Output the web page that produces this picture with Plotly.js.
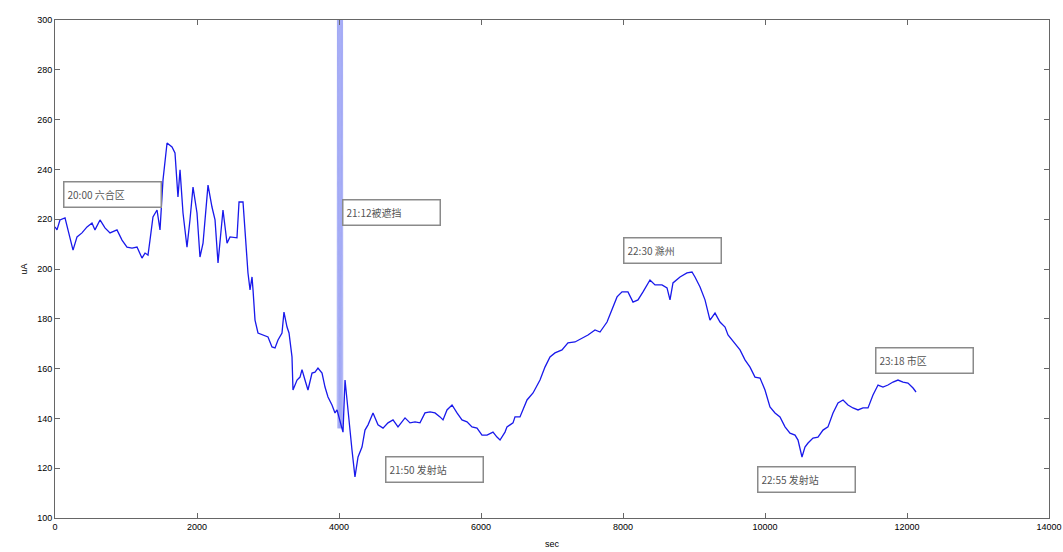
<!DOCTYPE html>
<html>
<head>
<meta charset="utf-8">
<script src="https://cdn.plot.ly/plotly-3.0.1.min.js"></script>
<style>html,body{margin:0;padding:0;background:#fff;}#chart{width:1063px;height:552px;}</style>
</head>
<body>
<div id="chart"></div>
<script>
// Time (sec) and signal values
const timeSec = [0,28,70,141,183,254,310,380,451,521,563,634,704,775,873,944,1014,1085,1155,1225,1268,1310,1338,1380,1437,1479,1521,1578,1648,1690,1732,1761,1803,1859,1901,1944,2000,2042,2085,2155,2211,2254,2296,2366,2423,2465,2563,2592,2648,2676,2718,2747,2775,2789,2817,2859,2930,3000,3056,3099,3141,3197,3225,3268,3296,3338,3352,3409,3451,3479,3521,3563,3620,3662,3704,3761,3803,3845,3901,3944,3972,4056,4085,4120,4183,4225,4268,4324,4366,4409,4479,4549,4620,4690,4761,4831,4930,5000,5071,5141,5211,5282,5352,5423,5465,5521,5592,5662,5732,5803,5873,5944,6014,6085,6169,6225,6268,6338,6366,6409,6451,6479,6549,6648,6733,6831,6901,6972,7042,7141,7225,7324,7423,7507,7606,7676,7775,7845,7916,7986,8070,8141,8211,8282,8380,8451,8549,8620,8662,8704,8803,8901,8972,9014,9085,9155,9225,9296,9366,9437,9479,9648,9718,9789,9859,9930,10000,10070,10141,10211,10282,10352,10423,10465,10521,10563,10606,10676,10746,10817,10887,10958,11028,11099,11169,11239,11310,11380,11451,11521,11592,11662,11732,11803,11873,11944,12014,12085,12127];
const signal = [216.9,215.7,219.7,220.5,215.7,207.6,212.9,214.5,216.9,218.5,215.7,219.7,216.5,214.5,215.7,211.6,208.8,208.4,208.8,204.4,206.4,205.6,211.6,220.9,223.7,215.7,235.7,250.6,249.0,246.6,228.9,239.8,222.5,208.8,219.7,232.9,222.5,204.8,210.4,233.7,224.9,219.7,202.4,223.7,210.4,212.9,212.5,226.9,226.9,215.7,198.4,191.6,196.8,191.6,179.5,174.3,173.5,172.7,168.7,168.3,171.5,174.3,182.7,176.7,174.3,164.7,151.4,155.4,156.6,159.6,155.4,151.4,158.2,158.6,160.2,158.2,152.6,148.6,145.4,142.2,143.4,134.5,155.4,144.6,127.3,116.5,124.5,128.5,135.3,137.4,142.2,137.4,136.1,138.2,139.4,136.6,140.2,138.2,138.6,138.2,142.2,142.6,142.2,140.6,139.4,143.4,145.4,142.2,139.4,138.6,136.6,136.1,133.3,133.3,134.5,132.5,131.3,134.5,136.6,137.4,138.2,140.6,140.6,147.4,150.2,155.4,160.6,164.7,166.3,167.5,170.3,170.7,172.3,173.5,175.5,174.7,178.7,183.5,188.8,190.8,190.8,186.7,187.6,190.8,195.6,193.6,193.6,192.4,187.6,194.4,196.8,198.4,198.8,196.8,192.8,187.6,179.5,182.3,178.7,176.7,173.5,167.5,163.5,160.6,156.6,156.2,151.4,144.6,142.2,140.6,136.6,134.1,133.3,131.3,124.5,128.5,130.1,132.1,132.5,135.3,136.6,142.2,146.2,147.4,145.4,144.2,143.4,144.2,144.2,149.4,153.4,152.6,153.4,154.6,155.4,154.6,154.2,152.2,150.6];

// Occluded burst around 21:12 (dense oscillation)
const burstSec = [3972,3978,3984,3990,3996,4002,4008,4014,4020,4026,4032,4038,4044,4050,4056];
const burstVal = [143,320,136,320,136,320,136,320,136,320,136,320,136,320,134.5];

// Event labels
const labelText = ["20:00 六合区","21:12被遮挡","21:50 发射站","22:30 滁州","22:55 发射站","23:18 市区"];
const labelSec = [803,4733,5345,8697,10578,12240];
const labelVal = [229.9,222.7,119.3,207.6,115.3,163.1];

const xTicks = [0,2000,4000,6000,8000,10000,12000,14000];
const yTicks = [100,120,140,160,180,200,220,240,260,280,300];

const traces = [
  {x: burstSec, y: burstVal, type: 'scatter', mode: 'lines',
   line: {color: 'rgba(110,120,240,0.35)', width: 1}, hoverinfo: 'skip', showlegend: false},
  {x: timeSec, y: signal, type: 'scatter', mode: 'lines',
   line: {color: 'rgb(25,25,235)', width: 1.3}, showlegend: false}
];

const annotations = labelText.map((t, i) => ({
  x: labelSec[i], y: labelVal[i], xref: 'x', yref: 'y', text: t, showarrow: false,
  xanchor: 'center', yanchor: 'middle', align: 'left', width: 90, height: 18,
  bgcolor: '#ffffff', bordercolor: '#8a8a8a', borderwidth: 1.5, borderpad: 3,
  font: {family: 'Noto Sans CJK SC, Liberation Sans, sans-serif', size: 10, color: '#555'}
}));

const axisCommon = {
  showgrid: false, zeroline: false, showline: true, mirror: 'ticks',
  linecolor: '#666', linewidth: 1, ticks: 'inside', ticklen: 5, tickcolor: '#666',
  tickfont: {family: 'Liberation Sans, Arial, sans-serif', size: 9, color: '#000'}
};

const layout = {
  width: 1063, height: 552,
  margin: {l: 55, r: 14, t: 20, b: 34},
  paper_bgcolor: '#fff', plot_bgcolor: '#fff',
  xaxis: Object.assign({}, axisCommon, {
    range: [0, 14000], tickvals: xTicks, ticktext: xTicks.map(String),
    title: {text: 'sec', font: {family: 'Liberation Sans, Arial, sans-serif', size: 9, color: '#000'}, standoff: 9}
  }),
  yaxis: Object.assign({}, axisCommon, {
    range: [100, 300], tickvals: yTicks, ticktext: yTicks.map(String),
    title: {text: 'uA', font: {family: 'Liberation Sans, Arial, sans-serif', size: 9, color: '#000'}, standoff: 8}
  }),
  annotations: annotations,
  showlegend: false
};

Plotly.newPlot('chart', traces, layout, {displayModeBar: false, staticPlot: true});
</script>
</body>
</html>
